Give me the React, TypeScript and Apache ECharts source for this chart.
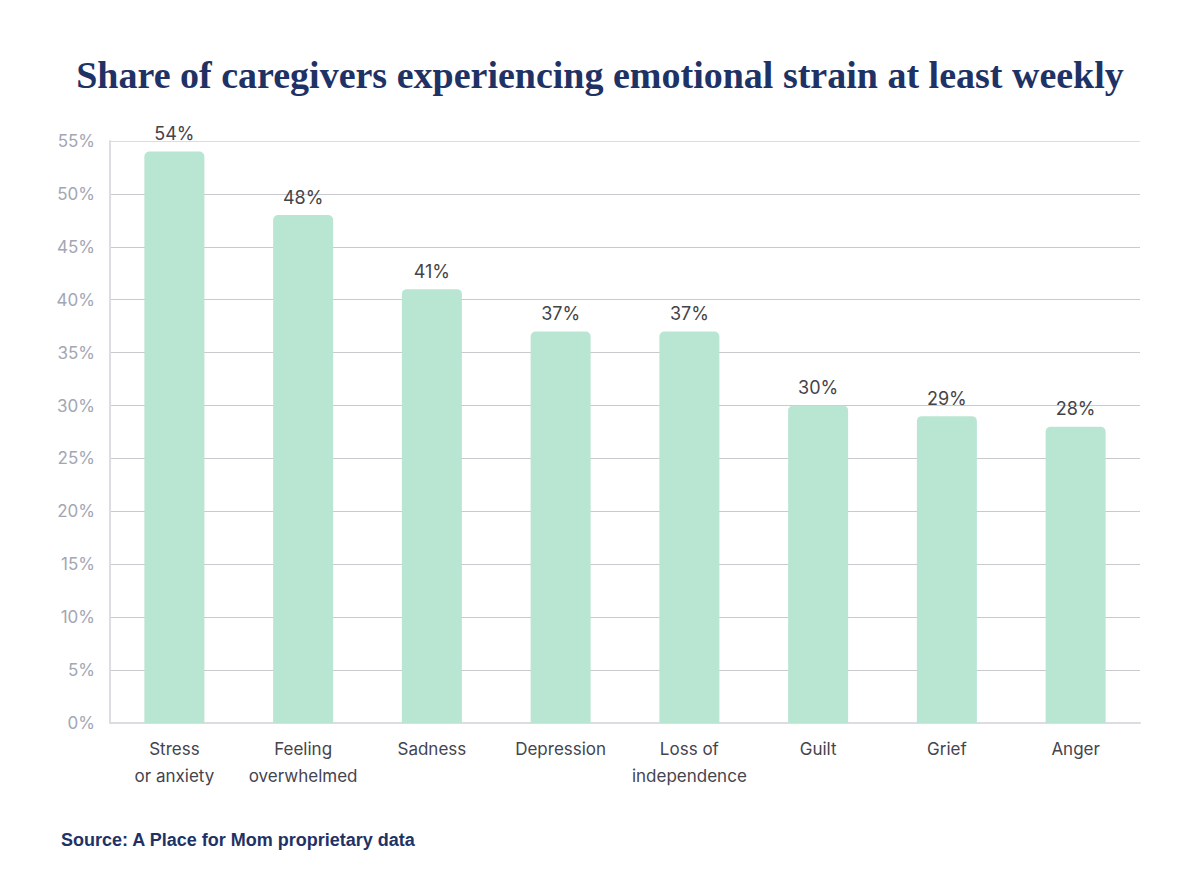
import React, { useEffect, useRef } from 'react';
import * as echarts from 'echarts';

const categories = [
  'Stress\nor anxiety',
  'Feeling\noverwhelmed',
  'Sadness',
  'Depression',
  'Loss of\nindependence',
  'Guilt',
  'Grief',
  'Anger',
];
const shares = [54, 48, 41, 37, 37, 30, 29, 28];
const yTicks = [0, 5, 10, 15, 20, 25, 30, 35, 40, 45, 50, 55];

const NAVY = '#1f3265';
const SANS = 'Inter, "Open Sans", sans-serif';

export default function App() {
  const chartRef = useRef<HTMLDivElement>(null);

  useEffect(() => {
    if (!chartRef.current) return;
    const chart = echarts.init(chartRef.current, null, { renderer: 'svg' });

    // last grid line (the top one) is lighter, like the frame
    const gridColors = yTicks.map((_, i) => (i === yTicks.length - 1 ? '#dcdce2' : '#c9c9ce'));

    chart.setOption({
      animation: false,
      backgroundColor: '#ffffff',
      title: [
        {
          text: 'Share of caregivers experiencing emotional strain at least weekly',
          left: 'center',
          top: 51,
          textStyle: {
            fontFamily: '"Liberation Serif", serif',
            fontWeight: 'bold',
            fontSize: 38,
            color: NAVY,
          },
        },
        {
          text: 'Source: A Place for Mom proprietary data',
          left: 56,
          top: 826,
          textStyle: {
            fontFamily: '"Liberation Sans", Arial, sans-serif',
            fontWeight: 'bold',
            fontSize: 18,
            color: NAVY,
          },
        },
      ],
      grid: { left: 110, right: 60, top: 141, bottom: 170, containLabel: false },
      xAxis: {
        type: 'category',
        data: categories,
        axisLine: { show: true, lineStyle: { color: '#dcdce2', width: 2 } },
        axisTick: { show: false },
        axisLabel: {
          margin: 12,
          fontFamily: SANS,
          fontSize: 17,
          lineHeight: 27,
          color: '#44444f',
          interval: 0,
        },
      },
      yAxis: {
        type: 'value',
        min: 0,
        max: 55,
        interval: 5,
        axisLine: { show: true, lineStyle: { color: '#dcdce2', width: 2 } },
        axisTick: { show: false },
        axisLabel: {
          margin: 15,
          fontFamily: SANS,
          fontSize: 17,
          color: '#a3a6b3',
          formatter: (v: number) => `${v}%`,
        },
        splitLine: { show: true, lineStyle: { color: gridColors, width: 1 } },
      },
      series: [
        {
          type: 'bar',
          data: shares,
          barWidth: 60,
          itemStyle: { color: '#b9e5d3', borderRadius: [5, 5, 0, 0] },
          label: {
            show: true,
            position: 'top',
            distance: 9,
            fontFamily: SANS,
            fontSize: 18,
            color: '#444448',
            formatter: '{c}%',
          },
        },
      ],
    });

    return () => chart.dispose();
  }, []);

  return (
    <div
      ref={chartRef}
      style={{ position: 'absolute', left: 0, top: 0, width: 1200, height: 893 }}
    />
  );
}
